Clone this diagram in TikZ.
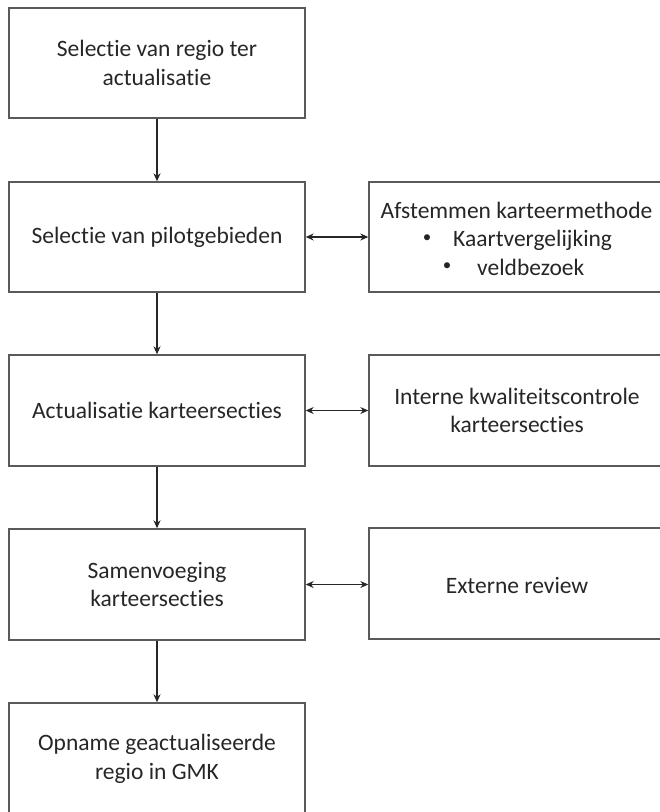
\documentclass[tikz,border=0pt]{standalone}
\usepackage{fontspec}
\setmainfont{Carlito}[Ligatures=NoCommon]
\usetikzlibrary{arrows.meta}
\definecolor{boxline}{HTML}{5A5A5A}
\definecolor{txt}{HTML}{262626}
\tikzset{
  lbl/.style={text=txt, inner sep=0pt, font=\fontsize{23.5pt}{28.7pt}\selectfont},
  bul/.style={text=txt, inner sep=0pt, font=\fontsize{17pt}{20pt}\selectfont},
  box/.style={lbl, draw=boxline, line width=1.4pt, minimum width=296pt, minimum height=110pt, align=center},
  conn/.style={draw=black!85, line width=1.1pt, -{Stealth[length=8pt,width=7pt]}},
  bconn/.style={draw=black!85, line width=1.1pt, {Stealth[length=8pt,width=7pt]}-{Stealth[length=8pt,width=7pt]}}
}
\begin{document}
\begin{tikzpicture}[x=1pt,y=-1pt]
\useasboundingbox (0,0) rectangle (660,812);
\clip (0,0) rectangle (660,812);
\node[box] (b1) at (157,63) {Selectie van regio ter\\actualisatie};
\node[box] (b2) at (157,237) {Selectie van pilotgebieden};
\node[box, minimum height=111pt] (b3) at (157,410.5) {Actualisatie karteersecties};
\node[box, minimum height=111pt] (b4) at (157,584.5) {Samenvoeging\\karteersecties};
\node[box, minimum height=112pt] (b5) at (157,759) {Opname geactualiseerde\\regio in GMK};
\node[box] (r1) at (517,237) {};
\node[lbl, anchor=base] (r1t) at (516.5,218) {Afstemmen karteermethode};
\node[bul] (r1ab) at (427,238.5) {•};
\node[lbl, anchor=base west] (r1a) at (453,246.5) {Kaartvergelijking};
\node[bul] (r1bb) at (447,267) {•};
\node[lbl, anchor=base west] (r1b) at (477,275) {veldbezoek};
\node[box, minimum height=111pt] (r2) at (517,410.5) {};
\node[lbl, align=center] (r2t) at (517,410.5) {Interne kwaliteitscontrole\\karteersecties};
\node[box, minimum height=111pt] (r3) at (517,583.5) {};
\node[lbl] (r3t) at (517,585) {Externe review};
\draw[conn] (b1.south) -- (b2.north);
\draw[conn] (b2.south) -- (b3.north);
\draw[conn] (b3.south) -- (b4.north);
\draw[conn] (b4.south) -- (b5.north);
\draw[bconn] (b2.east) -- (r1.west);
\draw[bconn] (b3.east) -- (r2.west);
\draw[bconn] (b4.east) -- (b4.east -| r3.west);
\end{tikzpicture}
\end{document}
